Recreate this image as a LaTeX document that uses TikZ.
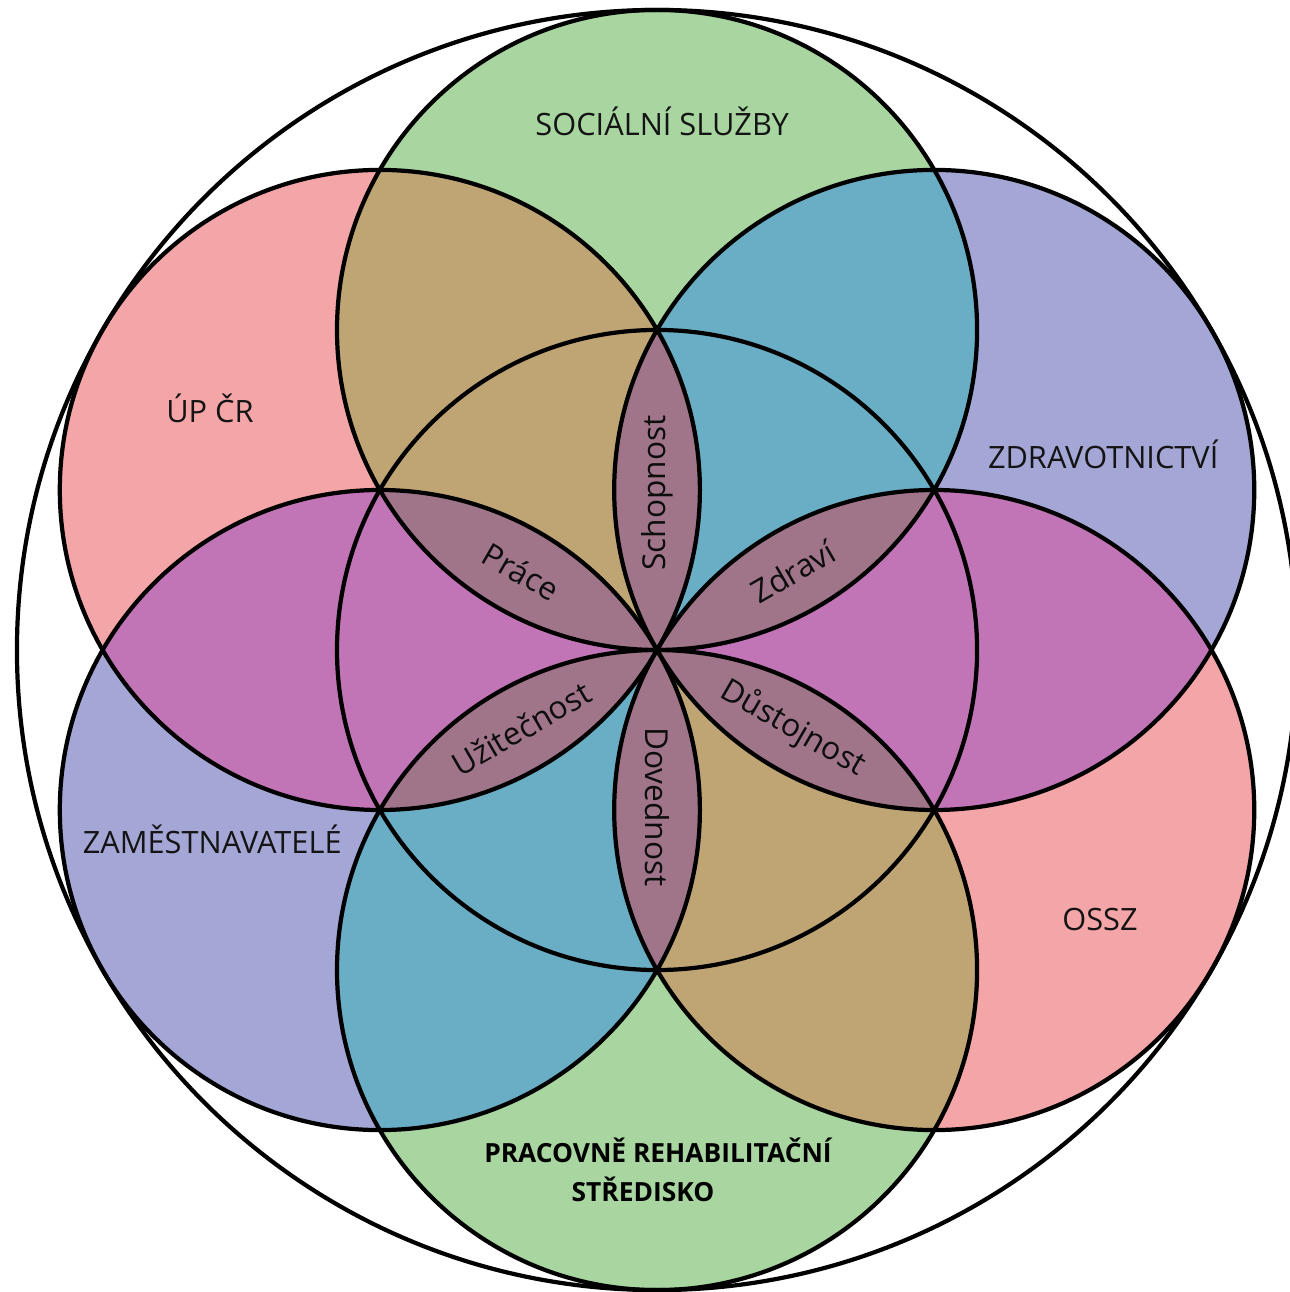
\documentclass[tikz,border=0pt]{standalone}
\usepackage{fontspec}
\setmainfont{Open Sans}
\definecolor{flowgreen}{HTML}{A8D5A0}
\definecolor{flowpink}{HTML}{F3A5A7}
\definecolor{flowblue}{HTML}{A4A6D6}
\definecolor{mixtan}{HTML}{BFA574}
\definecolor{mixteal}{HTML}{6AAEC6}
\definecolor{mixmag}{HTML}{C275B6}
\definecolor{mixpetal}{HTML}{A0758A}
\tikzset{
	ring/.style={draw=black, line width=2.4pt},
	biglabel/.style={anchor=base, text=black!92, font=\fontsize{17.5}{21}\selectfont},
	boldlabel/.style={anchor=base, text=black, font=\fontsize{15}{18}\selectfont\bfseries},
	petallabel/.style={text=black!95, font=\fontsize{18}{21}\selectfont}
}

\begin{document}
\begin{tikzpicture}[scale=0.64]

		\useasboundingbox (-20.53,-20.06) rectangle (19.75,20.31);

		\coordinate (mid) at (0,0);
		\coordinate (soc) at (90:10);
		\coordinate (zdr) at (30:10);
		\coordinate (ossz) at (-30:10);
		\coordinate (prs) at (-90:10);
		\coordinate (zam) at (-150:10);
		\coordinate (up) at (150:10);

		\foreach \c/\col in {soc/flowgreen, zdr/flowblue, ossz/flowpink, prs/flowgreen, zam/flowblue, up/flowpink}
			\fill[\col] (\c) circle (10);

		\foreach \a/\b/\col in {soc/zdr/mixteal, zdr/ossz/mixmag, ossz/prs/mixtan, prs/zam/mixteal, zam/up/mixmag, up/soc/mixtan}
		{
			\begin{scope}
				\clip (\a) circle (10);
				\fill[\col] (\b) circle (10);
			\end{scope}
		}

		\foreach \a/\b in {soc/ossz, zdr/prs, ossz/zam, prs/up, zam/soc, up/zdr}
		{
			\begin{scope}
				\clip (\a) circle (10);
				\fill[mixpetal] (\b) circle (10);
			\end{scope}
		}

		\foreach \c in {soc, zdr, ossz, prs, zam, up, mid}
			\draw[ring] (\c) circle (10);
		\draw[ring] (mid) circle (20);

		\node[biglabel] (soclbl) at (0.16,16.07) {SOCIÁLNÍ SLUŽBY};
		\node[biglabel] (uplbl) at (-13.97,7.1) {ÚP ČR};
		\node[biglabel] (zdrlbl) at (13.94,5.66) {ZDRAVOTNICTVÍ};
		\node[biglabel] (zamlbl) at (-13.9,-6.37) {ZAMĚSTNAVATELÉ};
		\node[biglabel] (osszlbl) at (13.84,-8.78) {OSSZ};
		\node[boldlabel] (prslbl) at (0.03,-16.02) {PRACOVNĚ REHABILITAČNÍ};
		\node[boldlabel] (prslbltwo) at (-0.44,-17.24) {STŘEDISKO};

		\foreach \ang/\rot/\txt/\nm in {90/90/Schopnost/schop, 30/30/Zdraví/zdravi, -30/-30/Důstojnost/dust, -90/-90/Dovednost/doved, 210/30/Užitečnost/uzit, 150/-30/Práce/prace}
			\node[petallabel, rotate=\rot] (\nm) at (\ang:4.9) {\txt};

\end{tikzpicture}
\end{document}
